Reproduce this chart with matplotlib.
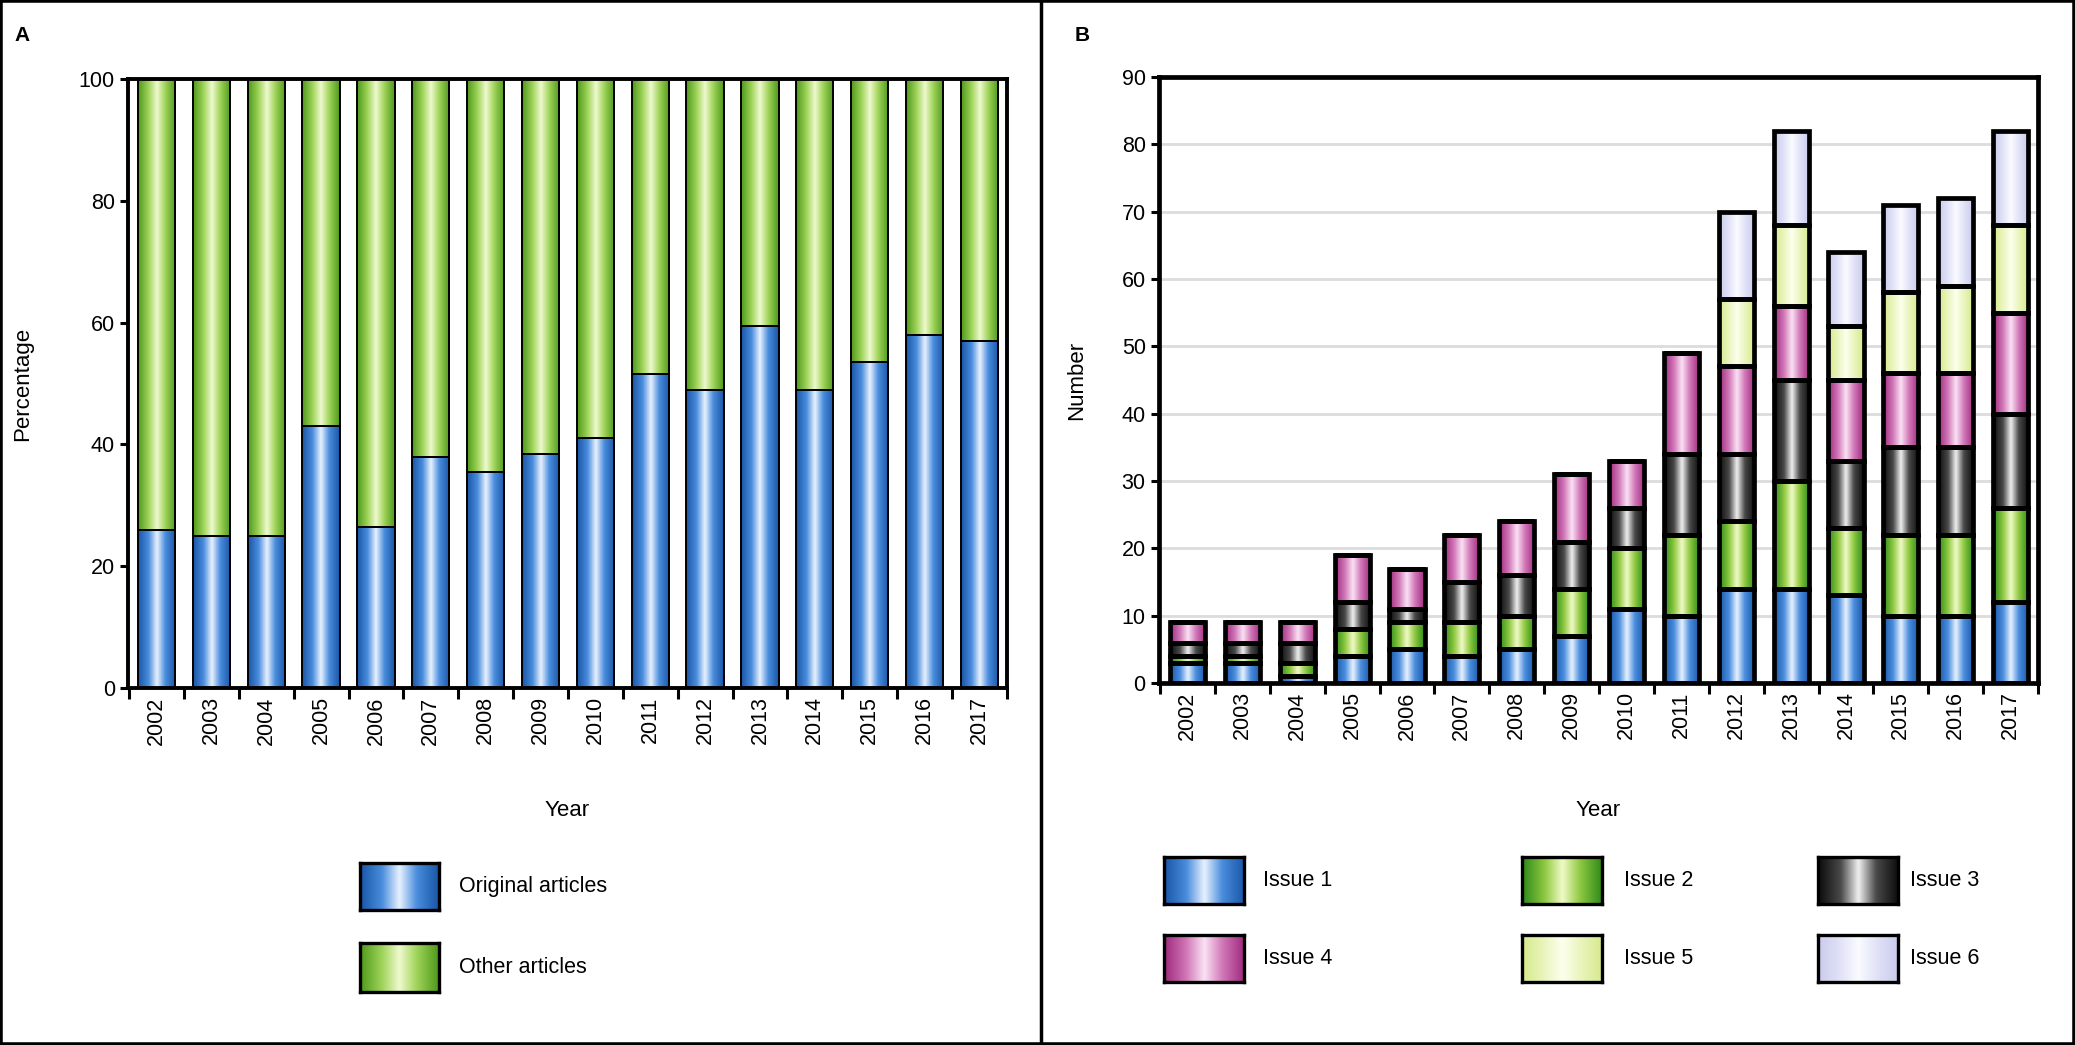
import numpy as np
import matplotlib
matplotlib.use("Agg")
import matplotlib.pyplot as plt
from matplotlib.colors import LinearSegmentedColormap
from matplotlib.patches import Rectangle
from matplotlib.lines import Line2D
from matplotlib.ticker import MultipleLocator

plt.rcParams['font.family'] = ['Liberation Sans', 'DejaVu Sans']

# data
years = [str(y) for y in range(2002, 2018)]
original_pct = [26, 25, 25, 43, 26.5, 38, 35.5, 38.5, 41, 51.5, 49, 59.5, 49, 53.5, 58, 57]
other_pct = [100 - v for v in original_pct]

issue1 = [3, 3, 1, 4, 5, 4, 5, 7, 11, 10, 14, 14, 13, 10, 10, 12]
issue2 = [1, 1, 2, 4, 4, 5, 5, 7, 9, 12, 10, 16, 10, 12, 12, 14]
issue3 = [2, 2, 3, 4, 2, 6, 6, 7, 6, 12, 10, 15, 10, 13, 13, 14]
issue4 = [3, 3, 3, 7, 6, 7, 8, 10, 7, 15, 13, 11, 12, 11, 11, 15]
issue5 = [0, 0, 0, 0, 0, 0, 0, 0, 0, 0, 10, 12, 8, 12, 13, 13]
issue6 = [0, 0, 0, 0, 0, 0, 0, 0, 0, 0, 13, 14, 11, 13, 13, 14]
issue_labels = ["Issue 1", "Issue 2", "Issue 3", "Issue 4", "Issue 5", "Issue 6"]

# (dark edge, body, light centre)
BLUE = ("#1a56a8", "#4b8ede", "#eaf3ff")
GREEN_A = ("#4f9a1c", "#a0d45a", "#f0fad0")
GREEN = ("#2d8a1a", "#8fc941", "#f2fbc8")
BLACK = ("#0c0c0c", "#4a4a4a", "#f2f2f2")
PINK = ("#a0297e", "#d27ab9", "#fbe3f5")
YELLOW = ("#d6ea8c", "#eaf5bf", "#fdffee")
LAVENDER = ("#c9cbec", "#e2e3f7", "#fbfbff")
issue_colors = [BLUE, GREEN, BLACK, PINK, YELLOW, LAVENDER]

GRAD = np.linspace(0, 1, 64).reshape(1, -1)


def make_cmap(c):
    dark, body, light = c
    return LinearSegmentedColormap.from_list(
        "g", [(0, dark), (0.28, body), (0.5, light), (0.72, body), (1, dark)])


def shade_bars(ax, bars, c):
    cmap = make_cmap(c)
    for rect in bars:
        h = rect.get_height()
        if h <= 0:
            continue
        x, y, w = rect.get_x(), rect.get_y(), rect.get_width()
        im = ax.imshow(GRAD, extent=[x, x + w, y, y + h], cmap=cmap,
                       aspect='auto', zorder=2, interpolation='bicubic')
        im.set_clip_path(rect)


def swatch(fig, rect, c, label, text_x):
    sax = fig.add_axes(rect)
    sax.imshow(GRAD, cmap=make_cmap(c), aspect='auto', interpolation='bicubic')
    sax.set_xticks([])
    sax.set_yticks([])
    for s in sax.spines.values():
        s.set_linewidth(2.4)
        s.set_color("black")
    fig.text(text_x, rect[1] + rect[3] / 2, label, fontsize=15.5,
             ha='left', va='center')


def style_axis(ax, lw):
    for s in ax.spines.values():
        s.set_linewidth(lw)
        s.set_color("black")
    ax.set_xlim(-0.52, 15.45)
    x = np.arange(len(years))
    ax.set_xticks(x)
    ax.set_xticklabels(years, rotation=90, fontsize=15.5)
    ax.set_xticks(np.arange(-0.5, len(years)), minor=True)
    ax.tick_params(axis='x', which='major', length=0, pad=6)
    ax.tick_params(axis='x', which='minor', length=8, width=2.2, direction='out')
    ax.tick_params(axis='y', length=6, width=2.2, labelsize=15.5, direction='out')


fig = plt.figure(figsize=(20.75, 10.45), dpi=100)
fig.patch.set_facecolor("white")
x = np.arange(len(years))

# Panel A
axA = fig.add_axes([0.0617, 0.3416, 0.4235, 0.5828])
b1 = axA.bar(x, original_pct, width=0.68, facecolor='none',
             edgecolor='black', linewidth=1.4, zorder=3)
b2 = axA.bar(x, other_pct, width=0.68, bottom=original_pct, facecolor='none',
             edgecolor='black', linewidth=1.4, zorder=3)
shade_bars(axA, b1, BLUE)
shade_bars(axA, b2, GREEN_A)
style_axis(axA, 2.8)
axA.set_ylim(0, 100)
axA.yaxis.set_major_locator(MultipleLocator(20))
axA.set_ylabel("Percentage", fontsize=16)
axA.yaxis.set_label_coords(-0.108, 0.5)
axA.set_xlabel("Year", fontsize=16)
axA.xaxis.set_label_coords(0.5, -0.184)

# Panel B
axB = fig.add_axes([0.5585, 0.3464, 0.4237, 0.58])
issues = [issue1, issue2, issue3, issue4, issue5, issue6]
bottom = np.zeros(len(years))
for vals, c in zip(issues, issue_colors):
    bars = axB.bar(x, vals, width=0.64, bottom=bottom, facecolor='none',
                   edgecolor='black', linewidth=3.4, zorder=3)
    shade_bars(axB, bars, c)
    bottom = bottom + np.array(vals)
style_axis(axB, 3.4)
axB.set_ylim(0, 90)
axB.yaxis.set_major_locator(MultipleLocator(10))
axB.grid(axis='y', color='#dcdcdc', linewidth=2, zorder=0)
axB.set_axisbelow(True)
axB.set_ylabel("Number", fontsize=16)
axB.yaxis.set_label_coords(-0.082, 0.5)
axB.set_xlabel("Year", fontsize=16)
axB.xaxis.set_label_coords(0.5, -0.193)

# legends
swatch(fig, [0.1735, 0.1292, 0.038, 0.045], BLUE, "Original articles", 0.2212)
swatch(fig, [0.1735, 0.0507, 0.038, 0.047], GREEN_A, "Other articles", 0.2212)
col_x = [0.561, 0.7335, 0.876]
text_x = [0.6085, 0.7826, 0.9205]
row_y = [0.135, 0.0603]
for i, (lab, c) in enumerate(zip(issue_labels, issue_colors)):
    r, k = divmod(i, 3)
    swatch(fig, [col_x[k], row_y[r], 0.0386, 0.045], c, lab, text_x[k])

# panel letters and frame
fig.text(0.007, 0.966, "A", fontsize=15, fontweight='bold', ha='left', va='center')
fig.text(0.518, 0.966, "B", fontsize=15, fontweight='bold', ha='left', va='center')
fig.patches.append(Rectangle((0, 0), 1, 1, transform=fig.transFigure,
                             fill=False, edgecolor='black', linewidth=4))
fig.lines.append(Line2D([0.5017, 0.5017], [0, 1], transform=fig.transFigure,
                        color='black', linewidth=2.5))

fig.savefig("out.png", dpi=100)
